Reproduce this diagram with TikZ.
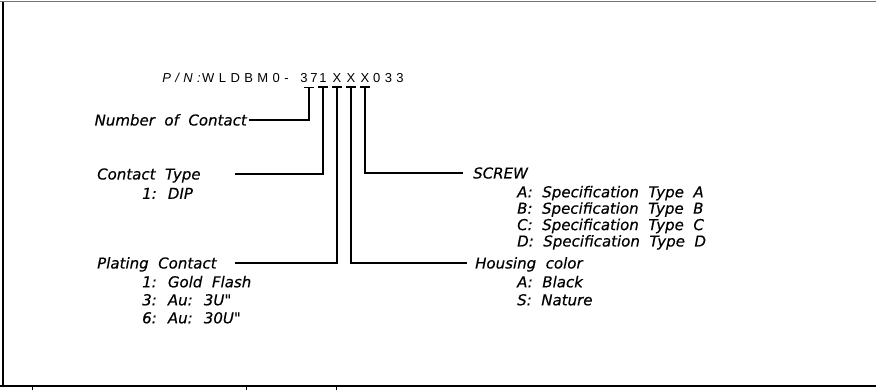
\documentclass[tikz,border=0pt]{standalone}
\usepackage{fontspec}
\newfontfamily\cadfont[WordSpace=2, FakeBold=0.4]{DejaVu Sans}
\newfontfamily\pnfont[LetterSpace=34]{Liberation Sans}

\begin{document}
\begin{tikzpicture}[x=1pt, y=-1pt,
    lbl/.style={font=\cadfont\itshape\fontsize{15}{18}\selectfont, inner sep=0pt, text height=11pt, text depth=0pt},
    items/.style={font=\cadfont\itshape\fontsize{15}{18}\selectfont, inner sep=0pt, align=left, anchor=north west},
    pnchar/.style={font=\pnfont\fontsize{13}{15}\selectfont, inner sep=0pt, anchor=base},
    wire/.style={line width=1.4pt}
    ]
    \useasboundingbox (0,0) rectangle (876,390);

    % Rahmen
    \draw[black!55, line width=0.8pt] (0,1.5) -- (876,1.5);
    \draw[line width=1.2pt] (3,2) -- (3,386);
    \draw[line width=2pt] (0,386) -- (876,386);
    \foreach \x in {32,246,336}
        \draw[line width=1pt] (\x,386) -- (\x,390);

    % Bestellnummer
    \node[pnchar, font=\pnfont\itshape\fontsize{13}{15}\selectfont, anchor=base east] (pn) at (201,83) {P/N:};
    \node[pnchar, anchor=base west] (pre) at (202,83) {WLDBM0-};
    \node[pnchar] (cnt) at (309,83) {3\hspace{3pt}7};
    \node[pnchar] (typ) at (323,83) {1};
    \node[pnchar] (plt) at (337,83) {X};
    \node[pnchar] (hsg) at (351,83) {X};
    \node[pnchar] (scr) at (365,83) {X};
    \node[pnchar, anchor=base west] (suf) at (373,83) {033};

    % Beschriftungen
    \node[lbl, anchor=east] (cnt-lbl) at (247,120) {Number of Contact};

    \node[lbl, anchor=west] (typ-lbl) at (97,174) {Contact Type};
    \node[items] (typ-items) at ([xshift=45pt, yshift=-8pt]typ-lbl.south west) {1: DIP};

    \node[lbl, anchor=west] (plt-lbl) at (97,263) {Plating Contact};
    \node[items] (plt-items) at ([xshift=45pt, yshift=-7pt]plt-lbl.south west)
        {1: Gold Flash\\3: Au: 3U"\\6: Au: 30U"};

    \node[lbl, anchor=west] (scr-lbl) at (473,173) {SCREW};
    \node[items, font=\cadfont\itshape\fontsize{15}{16.4}\selectfont] (scr-items) at ([xshift=44pt, yshift=-7pt]scr-lbl.south west)
        {A: Specification Type A\\B: Specification Type B\\C: Specification Type C\\D: Specification Type D};

    \node[lbl, anchor=west] (hsg-lbl) at (475,263) {Housing color};
    \node[items] (hsg-items) at ([xshift=42pt, yshift=-7pt]hsg-lbl.south west) {A: Black\\S: Nature};

    % Verbindungen
    \coordinate (lstart) at (235,0);
    \foreach \f in {cnt,typ,plt,hsg,scr}
        \draw[wire] ([xshift=-5pt, yshift=-4pt]\f.south) -- ++(10pt,0);
    \draw[wire] ([yshift=-4pt]cnt.south) |- ([xshift=2pt]cnt-lbl.east);
    \draw[wire] ([yshift=-4pt]typ.south) |- (typ-lbl.east -| lstart);
    \draw[wire] ([yshift=-4pt]plt.south) |- (plt-lbl.east -| lstart);
    \draw[wire] ([yshift=-4pt]hsg.south) |- ([xshift=-8pt]hsg-lbl.west);
    \draw[wire] ([yshift=-4pt]scr.south) |- ([xshift=-10pt]scr-lbl.west);
\end{tikzpicture}
\end{document}
